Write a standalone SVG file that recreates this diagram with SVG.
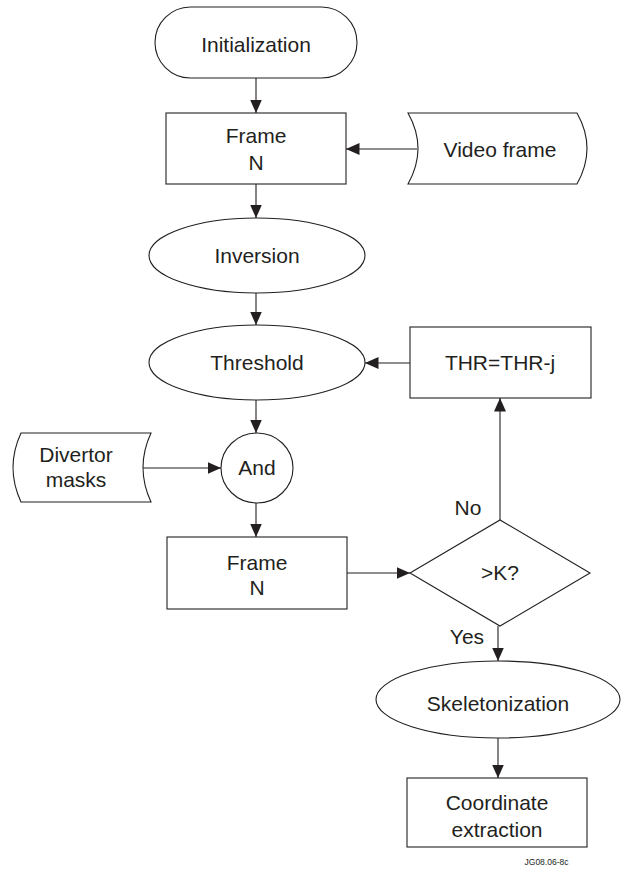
<svg xmlns="http://www.w3.org/2000/svg" width="624" height="870" viewBox="0 0 624 870">
<style>
.s{fill:#fff;stroke:#231f20;stroke-width:1.1}
.c{stroke:#231f20;stroke-width:1.1;fill:none}
text{font-family:"Liberation Sans",Arial,sans-serif;font-size:21px;fill:#231f20;text-anchor:middle}
.sm{font-size:8.5px}
</style>
<defs>
<marker id="ah" markerUnits="userSpaceOnUse" markerWidth="14" markerHeight="12" refX="13.5" refY="6" orient="auto">
<path d="M0,0 L13.5,6 L0,12 Z" fill="#231f20"/>
</marker>
</defs>
<rect width="624" height="870" fill="#fff"/>
<g id="connectors">
<line class="c" x1="256" y1="78" x2="256" y2="113" marker-end="url(#ah)"/>
<line class="c" x1="417" y1="149" x2="346" y2="149" marker-end="url(#ah)"/>
<line class="c" x1="256" y1="184" x2="256" y2="218" marker-end="url(#ah)"/>
<line class="c" x1="256" y1="293" x2="256" y2="325" marker-end="url(#ah)"/>
<line class="c" x1="410" y1="363" x2="365" y2="363" marker-end="url(#ah)"/>
<line class="c" x1="256" y1="400" x2="256" y2="433" marker-end="url(#ah)"/>
<line class="c" x1="143" y1="468" x2="221" y2="468" marker-end="url(#ah)"/>
<line class="c" x1="256" y1="503" x2="256" y2="537" marker-end="url(#ah)"/>
<line class="c" x1="347" y1="573" x2="410" y2="573" marker-end="url(#ah)"/>
<line class="c" x1="500" y1="520" x2="500" y2="398" marker-end="url(#ah)"/>
<line class="c" x1="498" y1="626" x2="498" y2="661" marker-end="url(#ah)"/>
<line class="c" x1="498" y1="738" x2="498" y2="778" marker-end="url(#ah)"/>
</g>
<g id="init">
<rect class="s" x="155" y="7" width="202" height="71" rx="35.5"/>
<text x="256" y="51.5">Initialization</text>
</g>
<g id="frame1">
<rect class="s" x="166" y="113" width="180" height="71"/>
<text x="256" y="143">Frame</text>
<text x="256" y="170">N</text>
</g>
<g id="video">
<path class="s" d="M408,113 L577,113 Q597,148.5 577,184 L408,184 Q428,148.5 408,113 Z"/>
<text x="500" y="157">Video frame</text>
</g>
<g id="inversion">
<ellipse class="s" cx="257" cy="255.5" rx="108" ry="37.5"/>
<text x="257" y="263">Inversion</text>
</g>
<g id="threshold">
<ellipse class="s" cx="257" cy="362.5" rx="108" ry="37.5"/>
<text x="257" y="370">Threshold</text>
</g>
<g id="thr">
<rect class="s" x="410" y="327" width="181" height="71"/>
<text x="500" y="370">THR=THR-j</text>
</g>
<g id="divertor">
<path class="s" d="M21,433 L151,433 Q135,467.5 151,502 L21,502 Q5,467.5 21,433 Z"/>
<text x="76" y="462">Divertor</text>
<text x="76" y="487">masks</text>
</g>
<g id="and">
<ellipse class="s" cx="257" cy="468" rx="36" ry="35"/>
<text x="257" y="475">And</text>
</g>
<g id="frame2">
<rect class="s" x="167" y="537" width="180" height="72"/>
<text x="257" y="570">Frame</text>
<text x="257" y="595">N</text>
</g>
<g id="decision">
<path class="s" d="M410,573 L500,520 L590,573 L500,626 Z"/>
<text x="500" y="580">&gt;K?</text>
<text x="468" y="515">No</text>
<text x="467" y="644">Yes</text>
</g>
<g id="skeleton">
<ellipse class="s" cx="498" cy="699.5" rx="122" ry="38.5"/>
<text x="498" y="711">Skeletonization</text>
</g>
<g id="coord">
<rect class="s" x="407" y="778" width="180" height="69"/>
<text x="497" y="810">Coordinate</text>
<text x="497" y="837">extraction</text>
</g>
<text class="sm" x="546.5" y="865">JG08.06-8c</text>
</svg>
